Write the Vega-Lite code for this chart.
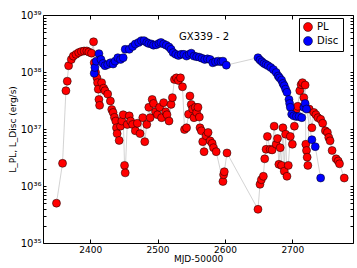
{
  "$schema": "https://vega.github.io/schema/vega-lite/v6.json",
  "autosize": "none",
  "width": 310,
  "height": 228,
  "padding": {"left": 43, "top": 15, "right": 4, "bottom": 25},
  "background": "white",
  "config": {
    "font": "DejaVu Sans",
    "view": {"stroke": "black", "strokeWidth": 1},
    "axis": {"grid": false, "domain": false, "labelFont": "DejaVu Sans", "titleFont": "DejaVu Sans", "labelColor": "black", "titleColor": "black", "tickColor": "black", "titleFontWeight": "normal"}
  },
  "datasets": {
    "lum": [
    {"t": 2350, "L": 5.0e35, "s": "PL"},
    {"t": 2359, "L": 2.5e36, "s": "PL"},
    {"t": 2364, "L": 4.7e37, "s": "PL"},
    {"t": 2366, "L": 6.9e37, "s": "PL"},
    {"t": 2368, "L": 1.29e38, "s": "PL"},
    {"t": 2372, "L": 1.66e38, "s": "PL"},
    {"t": 2375, "L": 1.9e38, "s": "PL"},
    {"t": 2379, "L": 2.04e38, "s": "PL"},
    {"t": 2383, "L": 2.19e38, "s": "PL"},
    {"t": 2387, "L": 2.29e38, "s": "PL"},
    {"t": 2391, "L": 2.34e38, "s": "PL"},
    {"t": 2395, "L": 2.34e38, "s": "PL"},
    {"t": 2398, "L": 2.24e38, "s": "PL"},
    {"t": 2402, "L": 2.14e38, "s": "PL"},
    {"t": 2405, "L": 3.39e38, "s": "PL"},
    {"t": 2406, "L": 1.45e38, "s": "PL"},
    {"t": 2408, "L": 9.8e37, "s": "PL"},
    {"t": 2410, "L": 7.9e37, "s": "PL"},
    {"t": 2411, "L": 6.5e37, "s": "PL"},
    {"t": 2412, "L": 5.0e37, "s": "PL"},
    {"t": 2413, "L": 3.3e37, "s": "PL"},
    {"t": 2414, "L": 2.6e37, "s": "PL"},
    {"t": 2417, "L": 6.5e37, "s": "PL"},
    {"t": 2420, "L": 5.2e37, "s": "PL"},
    {"t": 2422, "L": 4.7e37, "s": "PL"},
    {"t": 2426, "L": 4.1e37, "s": "PL"},
    {"t": 2430, "L": 3.1e37, "s": "PL"},
    {"t": 2432, "L": 2.2e37, "s": "PL"},
    {"t": 2434, "L": 1.95e37, "s": "PL"},
    {"t": 2436, "L": 1.6e37, "s": "PL"},
    {"t": 2438, "L": 1.38e37, "s": "PL"},
    {"t": 2439, "L": 1.05e37, "s": "PL"},
    {"t": 2440, "L": 8.3e36, "s": "PL"},
    {"t": 2443, "L": 6.3e36, "s": "PL"},
    {"t": 2445, "L": 1.12e37, "s": "PL"},
    {"t": 2447, "L": 1.38e37, "s": "PL"},
    {"t": 2449, "L": 1.78e37, "s": "PL"},
    {"t": 2451, "L": 2.3e36, "s": "PL"},
    {"t": 2452, "L": 1.7e36, "s": "PL"},
    {"t": 2455, "L": 1.2e37, "s": "PL"},
    {"t": 2458, "L": 1.7e37, "s": "PL"},
    {"t": 2460, "L": 1.38e37, "s": "PL"},
    {"t": 2463, "L": 1.2e37, "s": "PL"},
    {"t": 2467, "L": 9.3e36, "s": "PL"},
    {"t": 2470, "L": 1.26e37, "s": "PL"},
    {"t": 2474, "L": 8.3e36, "s": "PL"},
    {"t": 2478, "L": 1.58e37, "s": "PL"},
    {"t": 2481, "L": 6.0e36, "s": "PL"},
    {"t": 2484, "L": 1.2e37, "s": "PL"},
    {"t": 2487, "L": 2.4e37, "s": "PL"},
    {"t": 2489, "L": 1.58e37, "s": "PL"},
    {"t": 2492, "L": 3.3e37, "s": "PL"},
    {"t": 2494, "L": 2.8e37, "s": "PL"},
    {"t": 2497, "L": 2.0e37, "s": "PL"},
    {"t": 2500, "L": 1.78e37, "s": "PL"},
    {"t": 2503, "L": 2.4e37, "s": "PL"},
    {"t": 2506, "L": 1.58e37, "s": "PL"},
    {"t": 2509, "L": 2.9e37, "s": "PL"},
    {"t": 2512, "L": 2.0e37, "s": "PL"},
    {"t": 2514, "L": 1.78e37, "s": "PL"},
    {"t": 2517, "L": 1.38e37, "s": "PL"},
    {"t": 2520, "L": 2.7e37, "s": "PL"},
    {"t": 2522, "L": 3.55e37, "s": "PL"},
    {"t": 2525, "L": 7.4e37, "s": "PL"},
    {"t": 2528, "L": 7.9e37, "s": "PL"},
    {"t": 2531, "L": 7.1e37, "s": "PL"},
    {"t": 2534, "L": 7.9e37, "s": "PL"},
    {"t": 2537, "L": 5.5e37, "s": "PL"},
    {"t": 2540, "L": 9.8e36, "s": "PL"},
    {"t": 2543, "L": 1.05e37, "s": "PL"},
    {"t": 2546, "L": 1.82e37, "s": "PL"},
    {"t": 2548, "L": 3.8e37, "s": "PL"},
    {"t": 2550, "L": 2.7e37, "s": "PL"},
    {"t": 2552, "L": 2.24e37, "s": "PL"},
    {"t": 2554, "L": 1.58e37, "s": "PL"},
    {"t": 2556, "L": 2.4e37, "s": "PL"},
    {"t": 2558, "L": 1.95e37, "s": "PL"},
    {"t": 2560, "L": 2.4e37, "s": "PL"},
    {"t": 2562, "L": 1.62e37, "s": "PL"},
    {"t": 2563, "L": 1.05e37, "s": "PL"},
    {"t": 2565, "L": 9.3e36, "s": "PL"},
    {"t": 2567, "L": 6.0e36, "s": "PL"},
    {"t": 2569, "L": 4.0e36, "s": "PL"},
    {"t": 2572, "L": 7.6e36, "s": "PL"},
    {"t": 2575, "L": 8.7e36, "s": "PL"},
    {"t": 2578, "L": 6.2e36, "s": "PL"},
    {"t": 2581, "L": 5.6e36, "s": "PL"},
    {"t": 2583, "L": 4.7e36, "s": "PL"},
    {"t": 2587, "L": 4.0e36, "s": "PL"},
    {"t": 2597, "L": 1.2e36, "s": "PL"},
    {"t": 2598, "L": 1.58e36, "s": "PL"},
    {"t": 2599, "L": 1.78e36, "s": "PL"},
    {"t": 2603, "L": 3.8e36, "s": "PL"},
    {"t": 2649, "L": 3.9e35, "s": "PL"},
    {"t": 2652, "L": 1.07e36, "s": "PL"},
    {"t": 2654, "L": 1.29e36, "s": "PL"},
    {"t": 2657, "L": 1.48e36, "s": "PL"},
    {"t": 2659, "L": 3.0e36, "s": "PL"},
    {"t": 2661, "L": 4.4e36, "s": "PL"},
    {"t": 2663, "L": 7.4e36, "s": "PL"},
    {"t": 2667, "L": 4.4e36, "s": "PL"},
    {"t": 2670, "L": 4.3e36, "s": "PL"},
    {"t": 2673, "L": 1.12e37, "s": "PL"},
    {"t": 2676, "L": 5.4e36, "s": "PL"},
    {"t": 2678, "L": 6.8e36, "s": "PL"},
    {"t": 2680, "L": 2.4e36, "s": "PL"},
    {"t": 2682, "L": 4.7e36, "s": "PL"},
    {"t": 2684, "L": 2.3e36, "s": "PL"},
    {"t": 2686, "L": 1.05e37, "s": "PL"},
    {"t": 2688, "L": 1.82e36, "s": "PL"},
    {"t": 2690, "L": 8.1e36, "s": "PL"},
    {"t": 2692, "L": 1.48e36, "s": "PL"},
    {"t": 2694, "L": 2.3e36, "s": "PL"},
    {"t": 2697, "L": 7.4e36, "s": "PL"},
    {"t": 2700, "L": 5.4e36, "s": "PL"},
    {"t": 2703, "L": 1.12e37, "s": "PL"},
    {"t": 2706, "L": 2.24e37, "s": "PL"},
    {"t": 2708, "L": 2.5e37, "s": "PL"},
    {"t": 2711, "L": 4.7e37, "s": "PL"},
    {"t": 2713, "L": 6.0e37, "s": "PL"},
    {"t": 2715, "L": 6.5e37, "s": "PL"},
    {"t": 2717, "L": 3.55e37, "s": "PL"},
    {"t": 2719, "L": 5.9e37, "s": "PL"},
    {"t": 2720, "L": 5.4e36, "s": "PL"},
    {"t": 2721, "L": 4.2e36, "s": "PL"},
    {"t": 2722, "L": 3.2e36, "s": "PL"},
    {"t": 2723, "L": 2.3e36, "s": "PL"},
    {"t": 2725, "L": 2.24e37, "s": "PL"},
    {"t": 2729, "L": 1.05e37, "s": "PL"},
    {"t": 2732, "L": 1.95e37, "s": "PL"},
    {"t": 2735, "L": 1.78e37, "s": "PL"},
    {"t": 2738, "L": 1.58e37, "s": "PL"},
    {"t": 2742, "L": 1.48e37, "s": "PL"},
    {"t": 2745, "L": 1.26e37, "s": "PL"},
    {"t": 2749, "L": 9.3e36, "s": "PL"},
    {"t": 2752, "L": 8.7e36, "s": "PL"},
    {"t": 2754, "L": 7.1e36, "s": "PL"},
    {"t": 2756, "L": 6.2e36, "s": "PL"},
    {"t": 2759, "L": 4.2e36, "s": "PL"},
    {"t": 2765, "L": 3.0e36, "s": "PL"},
    {"t": 2768, "L": 2.75e36, "s": "PL"},
    {"t": 2770, "L": 2.45e36, "s": "PL"},
    {"t": 2777, "L": 1.38e36, "s": "PL"},
    {"t": 2406, "L": 9.5e37, "s": "Disc"},
    {"t": 2407, "L": 1.2e38, "s": "Disc"},
    {"t": 2409, "L": 1.55e38, "s": "Disc"},
    {"t": 2413, "L": 2.1e38, "s": "Disc"},
    {"t": 2416, "L": 1.66e38, "s": "Disc"},
    {"t": 2419, "L": 1.41e38, "s": "Disc"},
    {"t": 2422, "L": 1.29e38, "s": "Disc"},
    {"t": 2426, "L": 1.35e38, "s": "Disc"},
    {"t": 2430, "L": 1.45e38, "s": "Disc"},
    {"t": 2434, "L": 1.38e38, "s": "Disc"},
    {"t": 2437, "L": 1.55e38, "s": "Disc"},
    {"t": 2441, "L": 1.78e38, "s": "Disc"},
    {"t": 2445, "L": 1.66e38, "s": "Disc"},
    {"t": 2449, "L": 1.78e38, "s": "Disc"},
    {"t": 2452, "L": 2.5e38, "s": "Disc"},
    {"t": 2458, "L": 2.5e38, "s": "Disc"},
    {"t": 2463, "L": 2.8e38, "s": "Disc"},
    {"t": 2467, "L": 3.1e38, "s": "Disc"},
    {"t": 2472, "L": 3.3e38, "s": "Disc"},
    {"t": 2476, "L": 3.55e38, "s": "Disc"},
    {"t": 2480, "L": 3.55e38, "s": "Disc"},
    {"t": 2484, "L": 3.3e38, "s": "Disc"},
    {"t": 2487, "L": 3.16e38, "s": "Disc"},
    {"t": 2491, "L": 3.1e38, "s": "Disc"},
    {"t": 2494, "L": 2.95e38, "s": "Disc"},
    {"t": 2498, "L": 3.0e38, "s": "Disc"},
    {"t": 2502, "L": 3.16e38, "s": "Disc"},
    {"t": 2505, "L": 3.3e38, "s": "Disc"},
    {"t": 2509, "L": 3.1e38, "s": "Disc"},
    {"t": 2513, "L": 2.95e38, "s": "Disc"},
    {"t": 2517, "L": 2.75e38, "s": "Disc"},
    {"t": 2520, "L": 2.5e38, "s": "Disc"},
    {"t": 2523, "L": 2.19e38, "s": "Disc"},
    {"t": 2527, "L": 2.04e38, "s": "Disc"},
    {"t": 2531, "L": 1.95e38, "s": "Disc"},
    {"t": 2535, "L": 2.04e38, "s": "Disc"},
    {"t": 2539, "L": 2.04e38, "s": "Disc"},
    {"t": 2543, "L": 1.9e38, "s": "Disc"},
    {"t": 2547, "L": 2.04e38, "s": "Disc"},
    {"t": 2550, "L": 2.14e38, "s": "Disc"},
    {"t": 2554, "L": 1.9e38, "s": "Disc"},
    {"t": 2558, "L": 1.86e38, "s": "Disc"},
    {"t": 2562, "L": 1.82e38, "s": "Disc"},
    {"t": 2566, "L": 1.74e38, "s": "Disc"},
    {"t": 2570, "L": 1.66e38, "s": "Disc"},
    {"t": 2574, "L": 1.7e38, "s": "Disc"},
    {"t": 2578, "L": 1.66e38, "s": "Disc"},
    {"t": 2582, "L": 1.45e38, "s": "Disc"},
    {"t": 2586, "L": 1.51e38, "s": "Disc"},
    {"t": 2590, "L": 1.55e38, "s": "Disc"},
    {"t": 2594, "L": 1.51e38, "s": "Disc"},
    {"t": 2597, "L": 1.55e38, "s": "Disc"},
    {"t": 2602, "L": 1.32e38, "s": "Disc"},
    {"t": 2649, "L": 1.78e38, "s": "Disc"},
    {"t": 2652, "L": 1.62e38, "s": "Disc"},
    {"t": 2655, "L": 1.51e38, "s": "Disc"},
    {"t": 2658, "L": 1.41e38, "s": "Disc"},
    {"t": 2661, "L": 1.35e38, "s": "Disc"},
    {"t": 2664, "L": 1.29e38, "s": "Disc"},
    {"t": 2668, "L": 1.2e38, "s": "Disc"},
    {"t": 2672, "L": 1.1e38, "s": "Disc"},
    {"t": 2676, "L": 9.8e37, "s": "Disc"},
    {"t": 2679, "L": 8.5e37, "s": "Disc"},
    {"t": 2681, "L": 7.9e37, "s": "Disc"},
    {"t": 2684, "L": 7.2e37, "s": "Disc"},
    {"t": 2686, "L": 6.3e37, "s": "Disc"},
    {"t": 2688, "L": 5.75e37, "s": "Disc"},
    {"t": 2690, "L": 5.0e37, "s": "Disc"},
    {"t": 2692, "L": 4.4e37, "s": "Disc"},
    {"t": 2695, "L": 3.3e37, "s": "Disc"},
    {"t": 2696, "L": 2.8e37, "s": "Disc"},
    {"t": 2697, "L": 2.4e37, "s": "Disc"},
    {"t": 2699, "L": 1.82e37, "s": "Disc"},
    {"t": 2702, "L": 1.7e37, "s": "Disc"},
    {"t": 2706, "L": 1.66e37, "s": "Disc"},
    {"t": 2710, "L": 1.66e37, "s": "Disc"},
    {"t": 2714, "L": 1.58e37, "s": "Disc"},
    {"t": 2717, "L": 2.4e37, "s": "Disc"},
    {"t": 2719, "L": 2.8e37, "s": "Disc"},
    {"t": 2721, "L": 2.24e37, "s": "Disc"},
    {"t": 2729, "L": 6.5e36, "s": "Disc"},
    {"t": 2734, "L": 4.9e36, "s": "Disc"},
    {"t": 2742, "L": 1.38e36, "s": "Disc"}
    ],
    "label": [{"t": 2569, "L": 4.1e38, "name": "GX339 - 2"}]
  },
  "layer": [
    {
      "data": {"name": "lum"},
      "mark": {"type": "line", "color": "#c0c0c0", "strokeWidth": 0.7},
      "encoding": {
        "detail": {"field": "s"},
        "x": {"field": "t", "type": "quantitative", "scale": {"domain": [2330, 2790], "nice": false, "zero": false},
          "axis": {"title": "MJD-50000", "values": [2400, 2500, 2600, 2700], "labelFontSize": 9, "titleFontSize": 9, "tickSize": -4, "labelPadding": 6, "titlePadding": 0, "format": "d"}},
        "y": {"field": "L", "type": "quantitative", "scale": {"type": "log", "domain": [1e35, 1e39], "nice": false},
          "axis": {"title": "L_PL, L_Disc (erg/s)", "titleFontSize": 9, "labelFontSize": 10, "tickSize": -3, "labelPadding": 5, "titlePadding": 3,
          "values": [1e35, 2e35, 3e35, 4e35, 5e35, 6e35, 7e35, 8e35, 9e35, 1e36, 2e36, 3e36, 4e36, 5e36, 6e36, 7e36, 8e36, 9e36, 1e37, 2e37, 3e37, 4e37, 5e37, 6e37, 7e37, 8e37, 9e37, 1e38, 2e38, 3e38, 4e38, 5e38, 6e38, 7e38, 8e38, 9e38, 1e39],
          "labelExpr": "datum.value == 1e35 ? '10³⁵' : datum.value == 1e36 ? '10³⁶' : datum.value == 1e37 ? '10³⁷' : datum.value == 1e38 ? '10³⁸' : datum.value == 1e39 ? '10³⁹' : ''"}}
      }
    },
    {
      "data": {"name": "lum"},
      "mark": {"type": "point", "filled": true, "size": 64, "shape": "circle", "stroke": "black", "strokeWidth": 0.5, "opacity": 1},
      "encoding": {
        "color": {"field": "s", "type": "nominal", "scale": {"domain": ["PL", "Disc"], "range": ["#ff0000", "#0000ff"]},
          "legend": {"title": null, "orient": "none", "legendX": 256, "legendY": 3, "labelFontSize": 10, "symbolSize": 80, "symbolStrokeColor": "black", "symbolStrokeWidth": 0.5, "strokeColor": "black", "fillColor": "white", "padding": 4, "rowPadding": 2, "labelColor": "black"}},
        "x": {"field": "t", "type": "quantitative", "axis": {"orient": "top", "labels": false, "title": null, "values": [2400, 2500, 2600, 2700], "tickSize": -4}},
        "y": {"field": "L", "type": "quantitative", "axis": {"orient": "right", "labels": false, "title": null, "tickSize": -3,
          "values": [1e35, 2e35, 3e35, 4e35, 5e35, 6e35, 7e35, 8e35, 9e35, 1e36, 2e36, 3e36, 4e36, 5e36, 6e36, 7e36, 8e36, 9e36, 1e37, 2e37, 3e37, 4e37, 5e37, 6e37, 7e37, 8e37, 9e37, 1e38, 2e38, 3e38, 4e38, 5e38, 6e38, 7e38, 8e38, 9e38, 1e39]}}
      }
    },
    {
      "data": {"name": "label"},
      "mark": {"type": "text", "fontSize": 10, "font": "DejaVu Sans", "color": "black"},
      "encoding": {
        "x": {"field": "t", "type": "quantitative", "axis": null},
        "y": {"field": "L", "type": "quantitative", "axis": null},
        "text": {"field": "name"}
      }
    }
  ],
  "resolve": {"axis": {"x": "independent", "y": "independent"}}
}
